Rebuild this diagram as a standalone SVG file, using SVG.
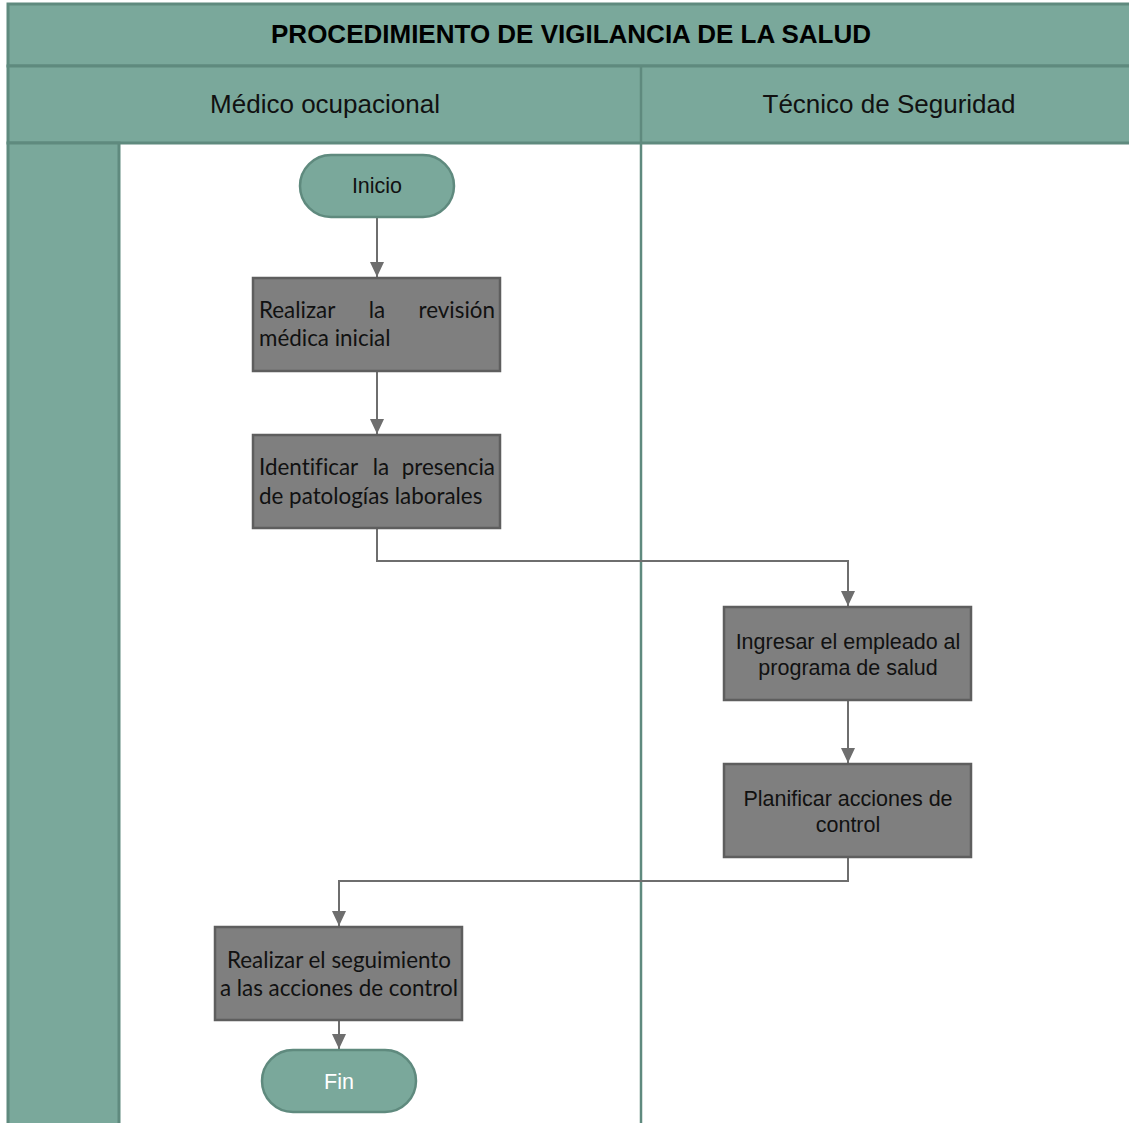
<svg xmlns="http://www.w3.org/2000/svg" width="1129" height="1123" viewBox="0 0 1129 1123">
  <style>
    .band { fill: #7aa89b; stroke: #5f8a7e; stroke-width: 3; }
    .lane { fill: none; stroke: #5f8a7e; stroke-width: 2.5; }
    .title { font-family: "Liberation Sans", Arial, sans-serif; font-weight: bold; font-size: 26px; fill: #000; }
    .head { font-family: "Liberation Sans", Arial, sans-serif; font-size: 26px; fill: #111; }
    .term { fill: #7aa89b; stroke: #5f8a7e; stroke-width: 2.5; }
    .task { fill: #7f7f7f; stroke: #5e5e5e; stroke-width: 2.5; }
    .cal { font-family: Lato, "Open Sans", sans-serif; font-size: 22.4px; fill: #111; font-variant-ligatures: none; }
    .ari { font-family: "Liberation Sans", Arial, sans-serif; font-size: 21.5px; fill: #111; }
    .conn { fill: none; stroke: #6e6e6e; stroke-width: 2; }
  </style>
  <defs>
    <marker id="arrow" viewBox="0 0 15 14" refX="15" refY="7" markerWidth="15" markerHeight="14" markerUnits="userSpaceOnUse" orient="auto">
      <path d="M0,0 L15,7 L0,14 Z" fill="#6e6e6e"/>
    </marker>
  </defs>

  <rect width="1129" height="1123" fill="#ffffff"/>

  <!-- pool frame and headers -->
  <g id="pool">
    <rect class="band" x="8" y="4" width="1130" height="62"/>
    <rect class="band" x="8" y="66" width="1130" height="77"/>
    <rect class="band" x="8" y="143" width="111" height="990"/>
    <line class="lane" x1="641" y1="66" x2="641" y2="1123"/>
    <text class="title" x="571" y="43" text-anchor="middle">PROCEDIMIENTO DE VIGILANCIA DE LA SALUD</text>
    <text class="head" x="325" y="113" text-anchor="middle">Médico ocupacional</text>
    <text class="head" x="889" y="113" text-anchor="middle">Técnico de Seguridad</text>
  </g>

  <!-- connectors -->
  <g id="connectors">
    <path class="conn" d="M377,217 V277" marker-end="url(#arrow)"/>
    <path class="conn" d="M377,371 V434" marker-end="url(#arrow)"/>
    <path class="conn" d="M377,528 V561 H848 V606" marker-end="url(#arrow)"/>
    <path class="conn" d="M848,700 V763" marker-end="url(#arrow)"/>
    <path class="conn" d="M848,857 V881 H339 V926" marker-end="url(#arrow)"/>
    <path class="conn" d="M339,1020 V1049" marker-end="url(#arrow)"/>
  </g>

  <g id="inicio">
    <rect class="term" x="300" y="155" width="154" height="62" rx="31"/>
    <text class="ari" x="377" y="193" text-anchor="middle">Inicio</text>
  </g>

  <g id="revision">
    <rect class="task" x="253" y="278" width="247" height="93"/>
    <text class="cal" x="259" y="318">Realizar</text>
    <text class="cal" x="377" y="318" text-anchor="middle">la</text>
    <text class="cal" x="495" y="318" text-anchor="end">revisión</text>
    <text class="cal" x="259" y="346">médica inicial</text>
  </g>

  <g id="patologias">
    <rect class="task" x="253" y="435" width="247" height="93"/>
    <text class="cal" x="259" y="475">Identificar</text>
    <text class="cal" x="381" y="475" text-anchor="middle">la</text>
    <text class="cal" x="495" y="475" text-anchor="end">presencia</text>
    <text class="cal" x="259" y="504">de patologías laborales</text>
  </g>

  <g id="ingresar">
    <rect class="task" x="724" y="607" width="247" height="93"/>
    <text class="ari" x="848" y="649" text-anchor="middle">Ingresar el empleado al</text>
    <text class="ari" x="848" y="675" text-anchor="middle">programa de salud</text>
  </g>

  <g id="planificar">
    <rect class="task" x="724" y="764" width="247" height="93"/>
    <text class="ari" x="848" y="806" text-anchor="middle">Planificar acciones de</text>
    <text class="ari" x="848" y="832" text-anchor="middle">control</text>
  </g>

  <g id="seguimiento">
    <rect class="task" x="215" y="927" width="247" height="93"/>
    <text class="cal" x="339" y="968" text-anchor="middle">Realizar el seguimiento</text>
    <text class="cal" x="339" y="996" text-anchor="middle">a las acciones de control</text>
  </g>

  <g id="fin">
    <rect class="term" x="262" y="1050" width="154" height="62" rx="31"/>
    <text class="ari" x="339" y="1089" text-anchor="middle" style="fill:#ffffff">Fin</text>
  </g>
</svg>
